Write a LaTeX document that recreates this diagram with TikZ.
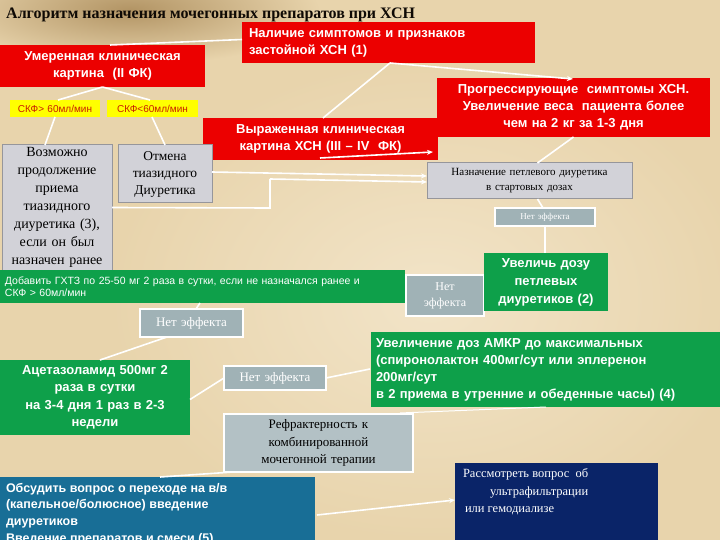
\documentclass[tikz,border=0pt]{standalone}
\usepackage{fontspec}
\setmainfont{Liberation Serif}
\setsansfont{Liberation Sans}
\usetikzlibrary{arrows.meta}
\definecolor{bg}{RGB}{232,212,172}
\definecolor{bglight}{RGB}{242,228,200}
\definecolor{bgdark}{RGB}{178,148,100}
\definecolor{cred}{RGB}{236,0,0}
\definecolor{cgreen}{RGB}{14,160,74}
\definecolor{cteal}{RGB}{24,110,150}
\definecolor{cnavy}{RGB}{10,36,104}
\definecolor{cgray}{RGB}{210,210,216}
\definecolor{cgrayb}{RGB}{150,150,155}
\definecolor{cnet}{RGB}{160,178,182}
\definecolor{cyel}{RGB}{255,255,0}
\definecolor{cyeltext}{RGB}{200,30,0}
\definecolor{ctitle}{RGB}{15,10,5}
\tikzset{
  box/.style={anchor=north west, inner ysep=0pt, outer sep=0pt},
  redbox/.style={box, fill=cred, text=white, font=\sffamily\bfseries\fontsize{13}{17}\selectfont},
  greenbox/.style={box, fill=cgreen, text=white, font=\sffamily\bfseries\fontsize{13}{17.5}\selectfont},
  yelbox/.style={box, fill=cyel, text=cyeltext, font=\sffamily\fontsize{10}{11}\selectfont, align=center, inner xsep=0pt},
  graybox/.style={box, fill=cgray, draw=cgrayb, line width=1pt, text=black, font=\fontsize{14}{18}\selectfont, align=center},
  netbox/.style={box, fill=cnet, draw=white, line width=1.5pt, text=white, align=center, inner xsep=0pt},
  conn/.style={draw=white, line width=1.6pt},
  arr/.style={conn, -{Stealth[length=6pt,width=5pt]}}
}
\begin{document}
\begin{tikzpicture}[x=1pt,y=-1pt]
\useasboundingbox (0,0) rectangle (720,540);
% background
\fill[bg] (0,0) rectangle (720,540);
\shade[inner color=bglight, outer color=bg] (430,300) ellipse (320 and 240);
\shade[inner color=bgdark, outer color=bg] (130,10) ellipse (190 and 55);
% title
\node[anchor=west, inner sep=0pt, text=ctitle, font=\bfseries\fontsize{16}{18}\selectfont] (title) at (6,15) {Алгоритм назначения мочегонных препаратов при ХСН};
% red boxes
\node[redbox, minimum width=293pt, minimum height=41pt, text width=279pt, inner xsep=7pt, align=left] (nal) at (242,22) {Наличие симптомов и признаков\\застойной ХСН (1)};
\node[redbox, minimum width=205pt, minimum height=42pt, text width=205pt, inner xsep=0pt, align=center] (umer) at (0,45) {Умеренная клиническая\\картина\ \ (II ФК)};
\node[redbox, minimum width=273pt, minimum height=59pt, text width=273pt, inner xsep=0pt, align=center] (prog) at (437,78) {Прогрессирующие\ \ симптомы ХСН.\\Увеличение веса\ \ пациента более\\чем на 2 кг за 1-3 дня};
\node[redbox, minimum width=235pt, minimum height=42pt, text width=235pt, inner xsep=0pt, align=center] (vyr) at (203,118) {Выраженная клиническая\\картина ХСН (III -- IV\ \ ФК)};
% yellow
\node[yelbox, minimum width=90pt, minimum height=17pt, text width=90pt] (skf1) at (10,100) {СКФ> 60мл/мин};
\node[yelbox, minimum width=91pt, minimum height=17pt, text width=91pt] (skf2) at (107,100) {СКФ<60мл/мин};
% gray boxes
\node[graybox, minimum width=110pt, minimum height=125pt, text width=106pt, inner xsep=2pt] (voz) at (2,145) {Возможно\\продолжение\\приема\\тиазидного\\диуретика (3),\\если он был\\назначен ранее};
\node[graybox, minimum width=94pt, minimum height=58pt, text width=90pt, inner xsep=2pt, font=\fontsize{13.5}{17}\selectfont] (otm) at (118,145) {Отмена\\тиазидного\\Диуретика};
\node[graybox, minimum width=205pt, minimum height=36pt, text width=201pt, inner xsep=2pt, font=\fontsize{11}{15}\selectfont] (naz) at (427,163) {Назначение петлевого диуретика\\в стартовых дозах};
% no effect boxes
\node[netbox, minimum width=100pt, minimum height=18pt, text width=100pt, font=\fontsize{9}{11}\selectfont] (ne1) at (495,208) {Нет эффекта};
\node[netbox, minimum width=78pt, minimum height=41pt, text width=78pt, font=\fontsize{12}{16}\selectfont] (ne2) at (406,275) {Нет\\эффекта};
\node[netbox, minimum width=103pt, minimum height=28pt, text width=103pt, font=\fontsize{13}{15}\selectfont] (ne3) at (140,309) {Нет эффекта};
\node[netbox, minimum width=102pt, minimum height=24pt, text width=102pt, font=\fontsize{13}{15}\selectfont] (ne4) at (224,366) {Нет эффекта};
% green boxes
\node[greenbox, minimum width=405pt, minimum height=33pt, text width=395pt, inner xsep=5pt, align=left, font=\sffamily\fontsize{10.5}{12}\selectfont] (ghtz) at (0,270) {Добавить ГХТЗ по 25-50 мг 2 раза в сутки, если не назначался ранее и\\СКФ > 60мл/мин};
\node[greenbox, minimum width=124pt, minimum height=58pt, text width=124pt, inner xsep=0pt, align=center, font=\sffamily\bfseries\fontsize{13}{18}\selectfont] (uvel) at (484,253) {Увеличь дозу\\петлевых\\диуретиков (2)};
\node[greenbox, minimum width=190pt, minimum height=75pt, text width=190pt, inner xsep=0pt, align=center] (acet) at (0,360) {Ацетазоламид 500мг 2\\раза в сутки\\на 3-4 дня 1 раз в 2-3\\недели};
\node[greenbox, minimum width=349pt, minimum height=75pt, text width=339pt, inner xsep=5pt, align=left, font=\sffamily\bfseries\fontsize{13}{17}\selectfont] (amkr) at (371,332) {Увеличение доз АМКР до максимальных\\(спиронолактон 400мг/сут или эплеренон\\200мг/сут\\в 2 приема в утренние и обеденные часы) (4)};
% refractory
\node[netbox, fill=cnet!80!white, text=black, minimum width=189pt, minimum height=58pt, text width=189pt, font=\fontsize{13}{17.5}\selectfont] (refr) at (224,414) {Рефрактерность к\\комбинированной\\мочегонной терапии};
% bottom boxes
\node[box, fill=cteal, text=white, inner xsep=0pt, font=\sffamily\bfseries\fontsize{12.5}{16.8}\selectfont, align=left] (obs) at (0,477) {\parbox[c][75pt][t]{315pt}{\vspace*{6pt}\hspace*{6pt}Обсудить вопрос о переходе на в/в\\\hspace*{6pt}(капельное/болюсное) введение\\\hspace*{6pt}диуретиков\\\hspace*{6pt}Введение препаратов и смеси (5)}};
\node[box, fill=cnavy, text=white, inner xsep=0pt, font=\fontsize{12.5}{17.5}\selectfont, align=left] (rass) at (455,463) {\parbox[c][80pt][t]{203pt}{\vspace*{6pt}\hspace*{8pt}Рассмотреть вопрос\ \ об\\\hspace*{35pt}ультрафильтрации\\\hspace*{10pt}или гемодиализе}};
% connectors
\draw[conn] ([xshift=110]umer.north west) -- ([yshift=3]nal.west);
\draw[conn] ([xshift=148]nal.south west) -- ([xshift=120]vyr.north west);
\draw[arr] ([xshift=148]nal.south west) -- ([xshift=136,yshift=-1]prog.north west);
\draw[conn] (umer.south) -- ([xshift=48]skf1.north west);
\draw[conn] (umer.south) -- ([xshift=43]skf2.north west);
\draw[conn] ([xshift=45]skf1.south west) -- ([xshift=43]voz.north west);
\draw[conn] ([xshift=45]skf2.south west) -- ([xshift=47]otm.north west);
\draw[arr] ([yshift=2]otm.east) -- ([yshift=5]naz.west);
\draw[conn] (voz.east) -- (270,208) -- (270,179);
\draw[arr] (270,179) -- ([yshift=-1]naz.west);
\draw[arr] ([xshift=117,yshift=2]vyr.south west) -- ([xshift=6,yshift=11]naz.north west);
\draw[conn] (prog.south) -- ([xshift=8]naz.north);
\draw[conn] ([xshift=8]naz.south) -- ([xshift=-2]ne1.north);
\draw[conn] (ne1.south) -- ([xshift=-1]uvel.north);
\draw[conn] ([xshift=200]ghtz.south west) -- ([xshift=56]ne3.north west);
\draw[conn] ([xshift=27]ne3.south west) -- ([xshift=100]acet.north west);
\draw[conn] ([yshift=-2]acet.east) -- (ne4.west);
\draw[conn] (ne4.east) -- ([xshift=-1,yshift=-37]amkr.north west);
\draw[conn, line width=1pt] ([xshift=175]amkr.south west) -- ([xshift=-13,yshift=1]refr.north east);
\draw[conn] ([xshift=9]refr.south west) -- ([xshift=160]obs.north west);
\draw[arr] ([xshift=2,yshift=-38]obs.north east) -- ([yshift=-37]rass.north west);
\end{tikzpicture}
\end{document}
